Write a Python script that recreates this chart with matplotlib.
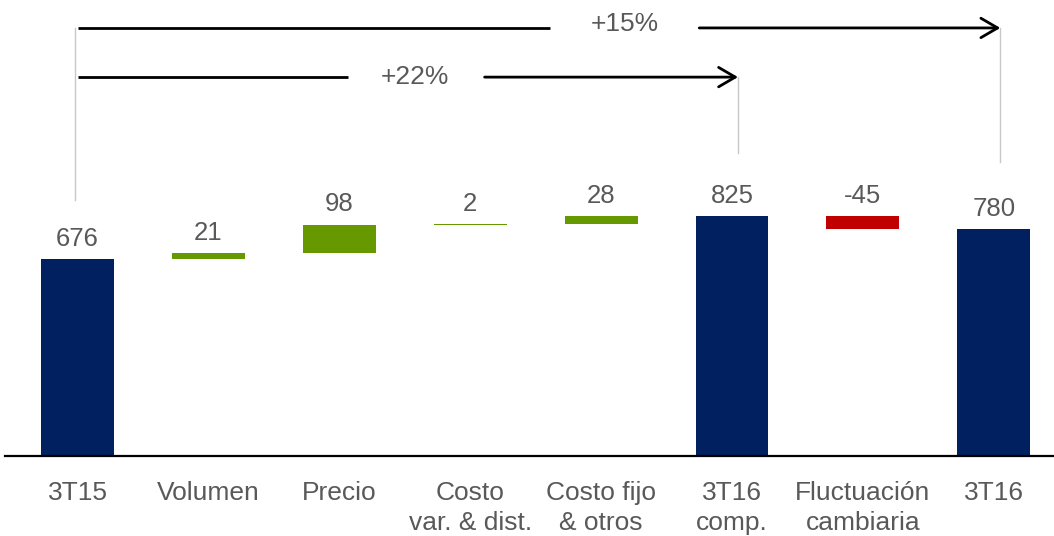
import matplotlib.pyplot as plt
import numpy as np

plt.rcParams['font.family'] = ['Liberation Sans', 'DejaVu Sans']

categories = ['3T15', 'Volumen', 'Precio', 'Costo\nvar. & dist.', 'Costo fijo\n& otros',
              '3T16\ncomp.', 'Fluctuación\ncambiaria', '3T16']
values = [676, 21, 98, 2, 28, 825, -45, 780]
is_total = [True, False, False, False, False, True, False, True]
growth_labels = ['+22%', '+15%']

navy = '#002060'
green = '#669900'
red = '#C00000'
grey_text = '#595959'

# waterfall bottoms
bottoms = []
heights = []
colors = []
running = 0
for v, tot in zip(values, is_total):
    if tot:
        bottoms.append(0)
        heights.append(v)
        colors.append(navy)
        running = v
    else:
        if v >= 0:
            bottoms.append(running)
            colors.append(green)
        else:
            bottoms.append(running + v)
            colors.append(red)
        heights.append(abs(v))
        running += v

fig = plt.figure(figsize=(10.54, 5.36), dpi=100)
ax = fig.add_axes([5 / 1054, 80 / 536, 1049 / 1054, 456 / 536])

x = np.arange(len(categories))
ax.bar(x, heights, bottom=bottoms, width=0.557, color=colors, zorder=2)

for xi, b, h, v in zip(x, bottoms, heights, values):
    ax.annotate(f'{v}', xy=(xi, b + h), xytext=(0, 6), textcoords='offset points',
                ha='center', va='bottom', fontsize=18.5, color=grey_text)

ax.set_xlim(-0.554, 7.46)
ax.set_ylim(0, 1567)

for s in ['top', 'right', 'left']:
    ax.spines[s].set_visible(False)
ax.spines['bottom'].set_linewidth(1.6)
ax.spines['bottom'].set_color('black')
ax.set_yticks([])
ax.set_xticks(x)
ax.set_xticklabels(categories, fontsize=19, color=grey_text, linespacing=1.3)
ax.tick_params(axis='x', length=0, pad=18)

# thin guide lines
guide = '#c8c8c8'
ax.plot([-0.02, -0.02], [880, 1471], color=guide, lw=1, zorder=1)
ax.plot([5.046, 5.046], [1041, 1302], color=guide, lw=1, zorder=1)
ax.plot([7.05, 7.05], [1010, 1471], color=guide, lw=1, zorder=1)

arrow_kw = dict(arrowstyle='->,head_length=0.6,head_width=0.35', lw=2, color='black',
                mutation_scale=20, shrinkA=0, shrinkB=0)

# +22% arrow
ax.plot([0, 2.07], [1302, 1302], color='black', lw=2, solid_capstyle='butt')
ax.annotate('', xy=(5.046, 1302), xytext=(3.11, 1302), arrowprops=arrow_kw)
ax.text(2.58, 1304, growth_labels[0], ha='center', va='center', fontsize=19, color=grey_text)

# +15% arrow
ax.plot([0, 3.61], [1471, 1471], color='black', lw=2, solid_capstyle='butt')
ax.annotate('', xy=(7.05, 1471), xytext=(4.75, 1471), arrowprops=arrow_kw)
ax.text(4.18, 1484, growth_labels[1], ha='center', va='center', fontsize=19, color=grey_text)

fig.savefig('out.png', dpi=100)
